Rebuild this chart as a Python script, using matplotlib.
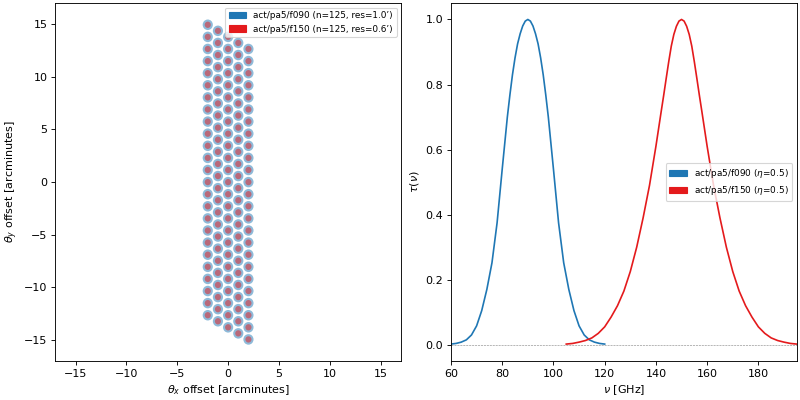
import numpy as np
import matplotlib
matplotlib.use('Agg')
import matplotlib.pyplot as plt
from matplotlib.patches import Circle, Patch

# detector layout (arcmin): 5 columns, 25 detectors each
col_x = [-2.0, -1.0, 0.0, 1.0, 2.0]
col_shift = [0.0, -0.575, -1.15, -1.725, -2.30]
base_y = [14.95, 13.80, 12.65, 11.50, 10.35, 9.20, 8.05, 6.90, 5.75, 4.60,
          3.45, 2.30, 1.15, 0.00, -1.15, -2.30, -3.45, -4.60, -5.75, -6.90,
          -8.05, -9.20, -10.35, -11.50, -12.65]

bands = ['act/pa5/f090', 'act/pa5/f150']
band_res = [1.0, 0.6]
band_eta = [0.5, 0.5]
band_colors = ['#1f77b4', '#e41a1c']

# passbands
nu_090 = [60, 62, 64, 66, 68, 70, 72, 74, 76, 78, 80, 82,
          83, 84, 85, 86, 87, 88, 89, 90, 91, 92, 93, 94, 95, 96, 97, 98,
          100, 102, 104, 106, 108, 110, 112, 114, 116, 118, 120]
tau_090 = [0.002, 0.004, 0.008, 0.015, 0.030, 0.058, 0.105, 0.170, 0.252, 0.375,
           0.540, 0.700, 0.768, 0.830, 0.882, 0.925, 0.956, 0.980, 0.995, 1.000,
           0.995, 0.980, 0.956, 0.925, 0.882, 0.830, 0.768, 0.700,
           0.540, 0.375, 0.252, 0.170, 0.105, 0.058, 0.030, 0.015, 0.008, 0.004, 0.002]

nu_150 = [105, 107.5, 110, 112.5, 115, 117.5, 120, 122.5, 125, 127.5, 130, 132.5,
          135, 137.5, 140, 141, 142, 143, 144, 145, 146, 147, 148, 149, 150,
          151, 152, 153, 154, 155, 156, 157, 158, 159, 160, 162.5,
          165, 167.5, 170, 172.5, 175, 177.5, 180, 182.5, 185, 187.5, 190, 192.5, 195]
tau_150 = [0.002, 0.004, 0.008, 0.013, 0.021, 0.035, 0.055, 0.085, 0.120, 0.165,
           0.225, 0.300, 0.390, 0.490, 0.610, 0.662, 0.714, 0.765, 0.818, 0.870,
           0.918, 0.954, 0.979, 0.995, 1.000, 0.995, 0.979, 0.954, 0.918, 0.870,
           0.818, 0.765, 0.714, 0.662, 0.610, 0.490, 0.390, 0.300, 0.225, 0.165,
           0.120, 0.085, 0.055, 0.035, 0.021, 0.013, 0.008, 0.004, 0.002]


fig, (ax1, ax2) = plt.subplots(1, 2, figsize=(10, 5), dpi=80)
fig.subplots_adjust(left=0.069, right=0.996, bottom=0.0975, top=0.992, wspace=0.1445)

det_x = []
det_y = []
for cx, sh in zip(col_x, col_shift):
    for y in base_y:
        det_x.append(cx)
        det_y.append(y + sh)

handles = []
for band, res, c in zip(bands, band_res, band_colors):
    for x, y in zip(det_x, det_y):
        ax1.add_patch(Circle((x, y), res / 2, color=c, alpha=0.5, lw=0))
    handles.append(Patch(color=c, label=f'{band} (n={len(det_x)}, res={res}\u2019)'))

ax1.set_xlim(-17, 17)
ax1.set_ylim(-17, 17)
ax1.set_xlabel(r'$\theta_x$ offset [arcminutes]')
ax1.set_ylabel(r'$\theta_y$ offset [arcminutes]')
ax1.legend(handles=handles, loc='upper right', fontsize=8)

ax2.plot(nu_090, tau_090, color=band_colors[0], lw=1.5)
ax2.plot(nu_150, tau_150, color=band_colors[1], lw=1.5)
ax2.axhline(0, color='grey', ls='--', lw=0.5)
ax2.set_xlim(60, 195)
ax2.set_ylim(-0.05, 1.05)
ax2.set_xlabel(r'$\nu$ [GHz]')
ax2.set_ylabel(r'$\tau(\nu)$')
handles2 = [Patch(color=c, label=f'{b} ($\\eta$={e})')
            for b, e, c in zip(bands, band_eta, band_colors)]
ax2.legend(handles=handles2, loc='center right', fontsize=8)

fig.savefig('out.png')
